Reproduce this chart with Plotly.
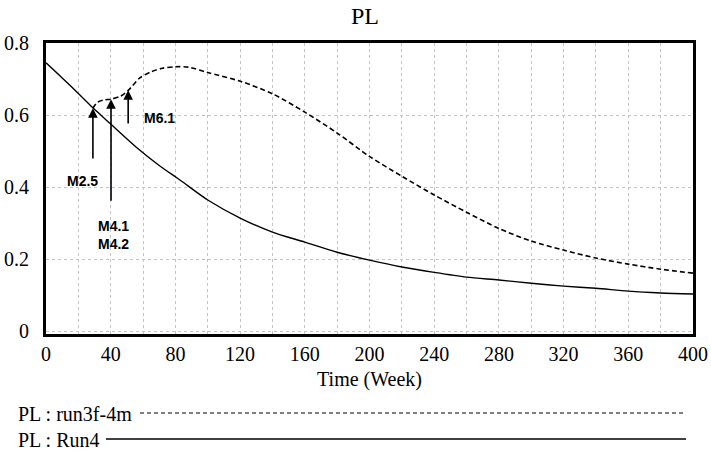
import plotly.graph_objects as go

# Data
run4_x = [0, 10, 20, 29, 40, 56, 70, 83, 100, 120, 140, 160, 180, 200, 220, 240,
          260, 280, 300, 320, 340, 360, 380, 400]
run4_y = [0.745, 0.703, 0.660, 0.620, 0.575, 0.510, 0.460, 0.419, 0.364, 0.314,
          0.275, 0.247, 0.219, 0.197, 0.178, 0.163, 0.150, 0.142, 0.133, 0.125,
          0.119, 0.111, 0.106, 0.103]

run3f_x = [29, 32, 36, 40, 46, 51, 58, 65, 72, 80, 88, 100, 120, 140, 160,
           180, 200, 220, 240, 260, 280, 300, 320, 340, 360, 380, 400]
run3f_y = [0.619, 0.636, 0.642, 0.644, 0.652, 0.669, 0.703, 0.720, 0.730, 0.734,
           0.733, 0.718, 0.694, 0.659, 0.608, 0.550, 0.485, 0.430, 0.378, 0.330,
           0.285, 0.250, 0.225, 0.203, 0.186, 0.172, 0.161]

# Markers (arrows): label, x, tip value, tail value, label x, label y
marker_labels = ["M2.5", "M4.1<br>M4.2", "M6.1"]
marker_x = [29, 40.2, 50.8]
marker_tip = [0.619, 0.644, 0.669]
marker_tail = [0.475, 0.358, 0.572]
label_x = [22.3, 41.5, 70.0]
label_y = [0.417, 0.268, 0.592]

x_ticks = [0, 40, 80, 120, 160, 200, 240, 280, 320, 360, 400]
y_ticks = [0, 0.2, 0.4, 0.6, 0.8]
y_tick_text = ["0", "0.2", "0.4", "0.6", "0.8"]

serif = "Liberation Serif, Times New Roman, serif"
sans = "Liberation Sans, Arial, sans-serif"

fig = go.Figure()
fig.add_trace(go.Scatter(x=run3f_x, y=run3f_y, mode="lines", name="PL : run3f-4m",
                         line=dict(color="black", width=1.6, dash="5px,3px", shape="spline",
                                   smoothing=0.8),
                         showlegend=False))
fig.add_trace(go.Scatter(x=run4_x, y=run4_y, mode="lines", name="PL : Run4",
                         line=dict(color="black", width=1.4, shape="spline", smoothing=0.8),
                         showlegend=False))

for lab, mx, tip, tail, lx, ly in zip(marker_labels, marker_x, marker_tip, marker_tail, label_x, label_y):
    fig.add_annotation(x=mx, y=tip, ax=mx, ay=tail, axref="x", ayref="y",
                       xref="x", yref="y", showarrow=True, arrowhead=2,
                       arrowsize=1.2, arrowwidth=1.6, arrowcolor="black", text="")
    fig.add_annotation(x=lx, y=ly, xref="x", yref="y", text="<b>" + lab + "</b>",
                       showarrow=False, font=dict(family=sans, size=14, color="black"),
                       align="left")

W, H = 711, 457
ML, MR, MT, MB = 46, 18, 43, 123
pw = W - ML - MR
ph = H - MT - MB


def px_to_paper(px, py):
    return (px - ML) / pw, (H - MB - py) / ph


# Legend-like rows below the chart
lx0, ly0 = px_to_paper(16, 414)
_, ly1 = px_to_paper(16, 440)
fig.add_annotation(x=lx0, y=ly0, xref="paper", yref="paper", text="PL : run3f-4m",
                   showarrow=False, xanchor="left", yanchor="middle",
                   font=dict(family=serif, size=20, color="black"))
fig.add_annotation(x=lx0, y=ly1, xref="paper", yref="paper", text="PL : Run4",
                   showarrow=False, xanchor="left", yanchor="middle",
                   font=dict(family=serif, size=20, color="black"))

x0a, ya = px_to_paper(140, 413)
x1a, _ = px_to_paper(686, 413)
x0b, yb = px_to_paper(106, 439)
x1b, _ = px_to_paper(686, 439)
fig.add_shape(type="line", xref="paper", yref="paper", x0=x0a, x1=x1a, y0=ya, y1=ya,
              line=dict(color="black", width=1.2, dash="4px,3px"))
fig.add_shape(type="line", xref="paper", yref="paper", x0=x0b, x1=x1b, y0=yb, y1=yb,
              line=dict(color="black", width=1.3))

fig.update_layout(
    width=W, height=H,
    margin=dict(l=ML, r=MR, t=MT, b=MB, autoexpand=False),
    paper_bgcolor="white", plot_bgcolor="white",
    title=dict(text="PL", x=365 / W, xanchor="center", y=1 - 16 / H, yanchor="middle",
               xref="paper" if False else "container",
               font=dict(family=serif, size=24, color="black")),
    xaxis=dict(range=[0, 400], tickvals=x_ticks, ticks="", automargin=False,
               showgrid=False, zeroline=False,
               showline=True, linewidth=3, linecolor="black", mirror=True,
               tickfont=dict(family=serif, size=20, color="black"),
               title=dict(text="Time (Week)", font=dict(family=serif, size=20, color="black"),
                          standoff=8),
               minor=dict(dtick=20, tick0=0, showgrid=True, gridcolor="#c4c4c4",
                          griddash="dot", gridwidth=1)),
    yaxis=dict(range=[-0.008, 0.8], tickvals=y_ticks, ticktext=y_tick_text, ticks="",
               automargin=False,
               showgrid=True, gridcolor="#c4c4c4", griddash="dot", gridwidth=1,
               zeroline=False, ticklabelstandoff=10,
               showline=True, linewidth=3, linecolor="black", mirror=True,
               tickfont=dict(family=serif, size=20, color="black")),
)

fig.write_html("out.html")
